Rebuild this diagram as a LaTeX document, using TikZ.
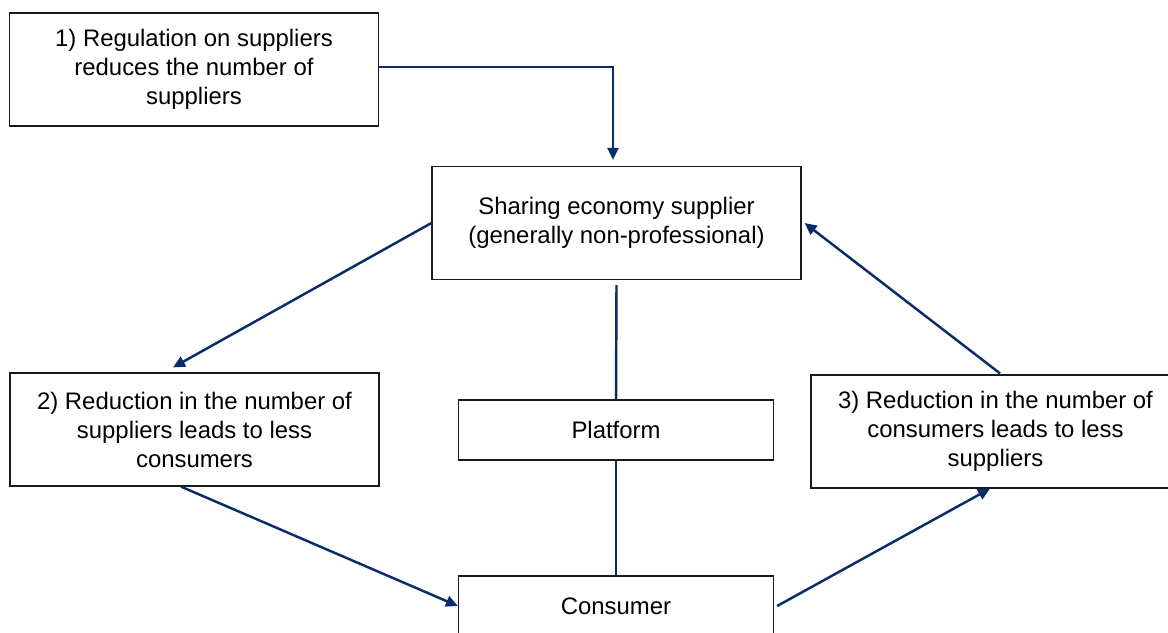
\documentclass[tikz,border=0pt]{standalone}
\usepackage{fontspec}
\setmainfont{Liberation Sans}
\usetikzlibrary{calc,arrows.meta}
\definecolor{navy}{HTML}{0A2D6A}
\definecolor{edge}{HTML}{1A1A1A}
\tikzset{
  flowBox/.style={draw=edge, line width=0.7pt, align=center, inner sep=0pt,
    font=\fontsize{13.6}{16.5}\selectfont},
  wideBox/.style={flowBox, minimum width=7.38cm, minimum height=2.26cm},
  flatBox/.style={flowBox, minimum width=6.3cm, minimum height=1.2cm},
  flowLink/.style={draw=navy, line width=1.4pt},
  flowArrow/.style={flowLink, -{Triangle[length=0.24cm,width=0.22cm]}}
}

\begin{document}
\begin{tikzpicture}[x=0.02cm,y=-0.02cm]
  \useasboundingbox (0,0) rectangle (1168,632);
  \fill[white] (0,0) rectangle (1168,632);

  \node[wideBox] (regBox) at (194,69.5) {1) Regulation on suppliers\\reduces the number of\\suppliers};
  \node[wideBox] (supplierBox) at (616.5,223) {Sharing economy supplier\\(generally non-professional)};
  \node[wideBox] (lossConsBox) at (194.5,429.5) {2) Reduction in the number of\\suppliers leads to less\\consumers};
  \node[wideBox] (lossSuppBox) at (995.5,431.5) {3) Reduction in the number of\\consumers leads to less\\suppliers};
  \node[flatBox] (platformBox) at (616,430) {Platform};
  \node[flatBox] (consumerBox) at (616,606) {Consumer};

  \draw[flowArrow] ($(regBox.east)+(0,-2.5)$) -| ($(supplierBox.north)+(-3.5,-6)$);
  \draw[flowArrow] (supplierBox.west) -- ($(lossConsBox.north)+(-21.5,-5)$);
  \draw[flowLink] ($(supplierBox.south)+(0,5)$) -- (platformBox.north);
  \draw[flowLink] (platformBox.south) -- (consumerBox.north);
  \draw[flowArrow] ($(lossConsBox.south)+(-13.5,0)$) -- (consumerBox.west);
  \draw[flowArrow] ($(consumerBox.east)+(3,0)$) -- ($(lossSuppBox.south)+(-5.5,0)$);
  \draw[flowArrow] ($(lossSuppBox.north)+(4.5,-1)$) -- ($(supplierBox.east)+(3,0)$);
\end{tikzpicture}
\end{document}
